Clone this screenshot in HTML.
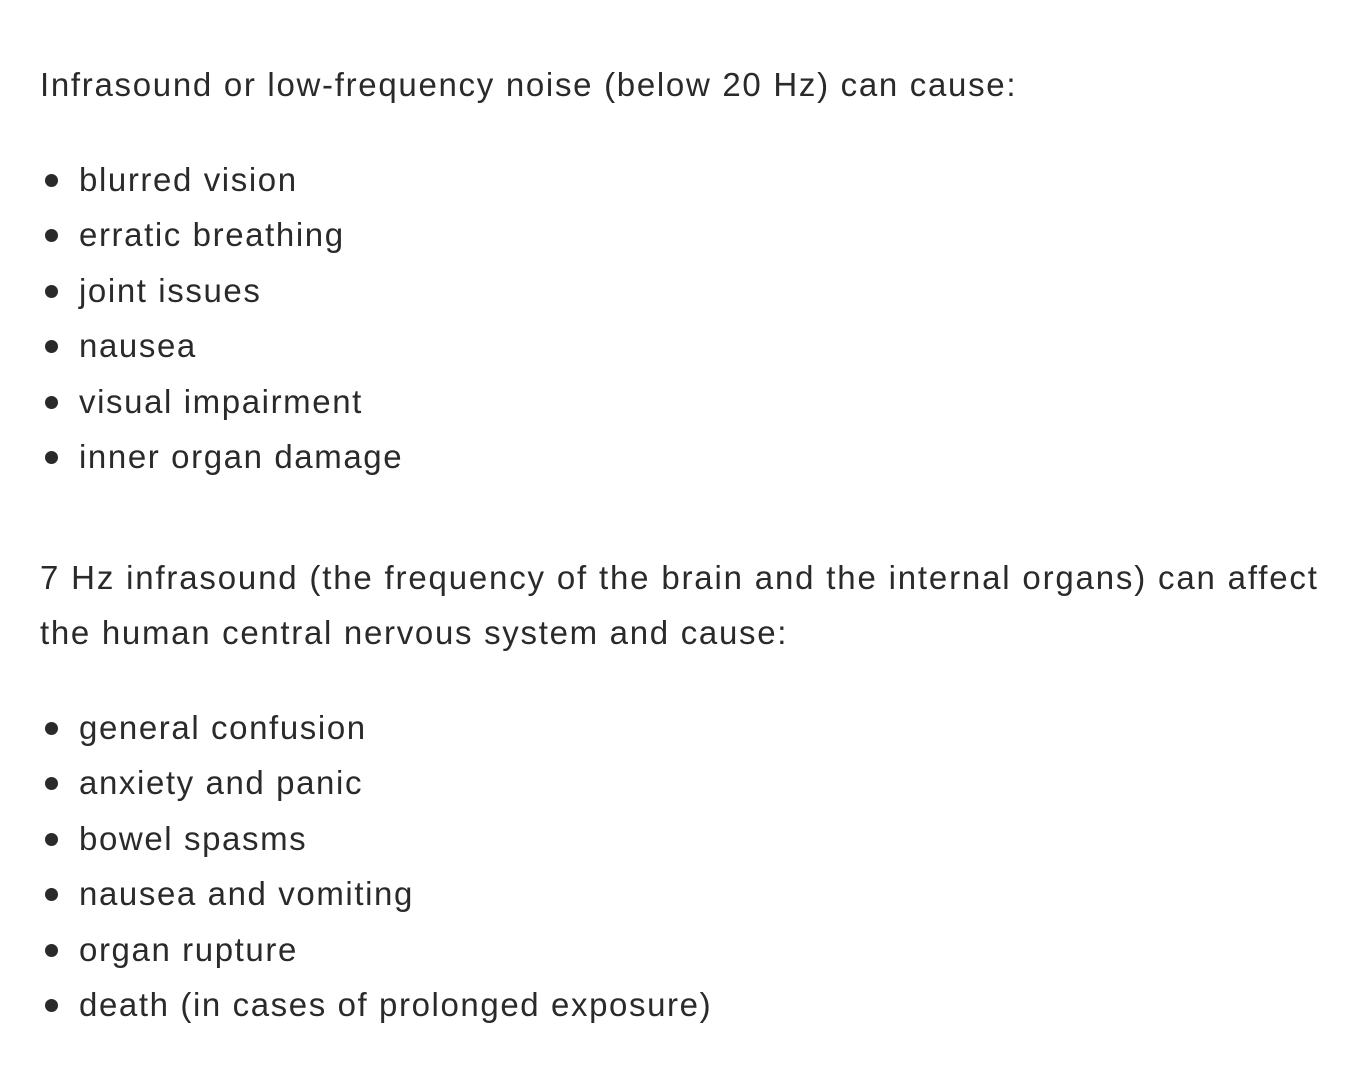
<!DOCTYPE html>
<html>
<head>
<meta charset="utf-8">
<style>
  html, body { margin:0; padding:0; background:#fff; }
  body { width:1362px; height:1080px; position:relative; overflow:hidden;
         font-family:"Liberation Sans", sans-serif; font-size:33px; color:#2a2a2a; }
  .l { position:absolute; left:40px; height:56px; line-height:56px; white-space:nowrap; letter-spacing:1.7px; }
  .b { position:absolute; left:79px; height:56px; line-height:56px; white-space:nowrap; letter-spacing:1.6px; }
  .dot { position:absolute; left:45px; width:13px; height:13px; border-radius:50%; background:#2a2a2a; }
</style>
</head>
<body>
<div class="l" style="top:57px">Infrasound or low-frequency noise (below 20 Hz) can cause:</div>

<div class="dot" style="top:174px"></div><div class="b" style="top:152px">blurred vision</div>
<div class="dot" style="top:229px"></div><div class="b" style="top:207px">erratic breathing</div>
<div class="dot" style="top:285px"></div><div class="b" style="top:263px">joint issues</div>
<div class="dot" style="top:340px"></div><div class="b" style="top:318px">nausea</div>
<div class="dot" style="top:396px"></div><div class="b" style="top:374px">visual impairment</div>
<div class="dot" style="top:451px"></div><div class="b" style="top:429px">inner organ damage</div>

<div class="l" style="top:550px; letter-spacing:1.82px">7 Hz infrasound (the frequency of the brain and the internal organs) can affect</div>
<div class="l" style="top:605px">the human central nervous system and cause:</div>

<div class="dot" style="top:722px"></div><div class="b" style="top:700px">general confusion</div>
<div class="dot" style="top:777px"></div><div class="b" style="top:755px">anxiety and panic</div>
<div class="dot" style="top:833px"></div><div class="b" style="top:811px">bowel spasms</div>
<div class="dot" style="top:888px"></div><div class="b" style="top:866px">nausea and vomiting</div>
<div class="dot" style="top:944px"></div><div class="b" style="top:922px">organ rupture</div>
<div class="dot" style="top:999px"></div><div class="b" style="top:977px">death (in cases of prolonged exposure)</div>
</body>
</html>
